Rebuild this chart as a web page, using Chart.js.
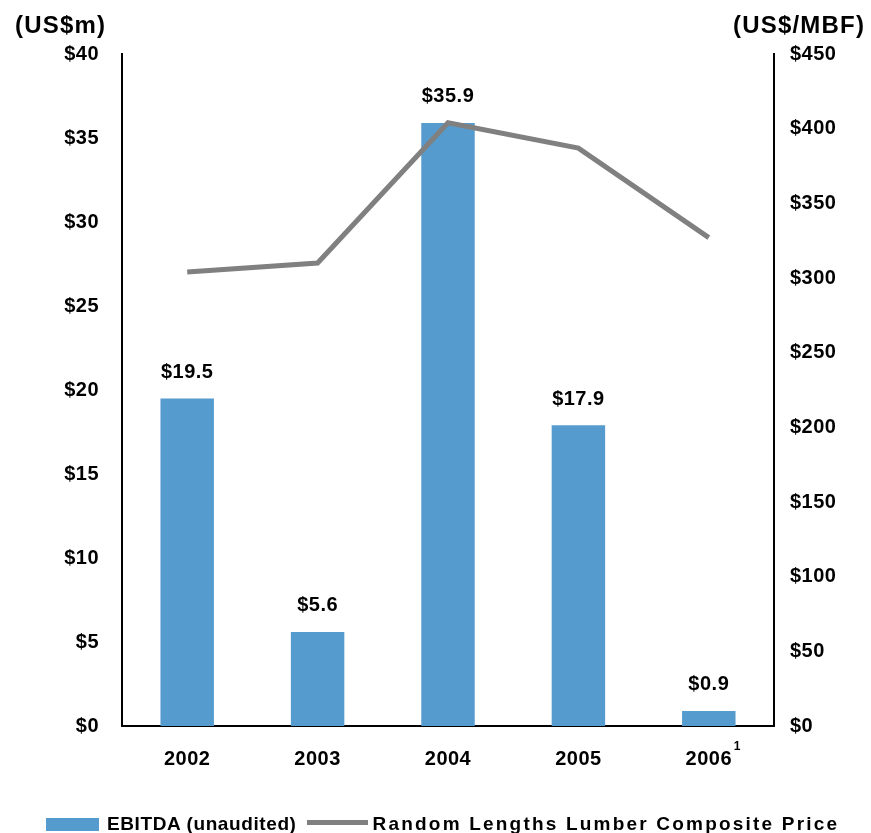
<!DOCTYPE html>
<html>
<head>
<meta charset="utf-8">
<script src="https://cdn.jsdelivr.net/npm/chart.js@4.4.1/dist/chart.umd.min.js"></script>
<style>
  html, body { margin: 0; padding: 0; background: #fff; }
  #wrap { position: relative; width: 871px; height: 833px; }
  #legend {
    position: absolute; left: 46px; top: 814px; height: 20px;
    display: flex; align-items: center;
    font: bold 19px "Liberation Sans", Arial, sans-serif; color: #000;
  }
  #legend .box { width: 53px; height: 13px; margin-right: 8px; }
  #legend .ln { width: 61px; height: 5px; margin: -3px 5px 0 10px; }
</style>
</head>
<body>
<div id="wrap">
  <canvas id="chart" width="871" height="833"></canvas>
  <div id="legend"></div>
</div>
<script>
// data
const years = ['2002', '2003', '2004', '2005', '2006'];
const footnotes = ['', '', '', '', '1'];
const ebitda = [19.5, 5.6, 35.9, 17.9, 0.9];          // US$m
const lumberPrice = [304, 310, 404, 387, 327];        // US$/MBF
const leftTicks = { min: 0, max: 40, step: 5 };
const rightTicks = { min: 0, max: 450, step: 50 };

const FONT = '"Liberation Sans", Arial, sans-serif';
const barColor = '#569BCD';
const lineColor = '#808080';

// titles, bar value labels and footnote marks
const extras = {
  id: 'extras',
  beforeDraw(chart) {
    chart.ctx.letterSpacing = '0.5px';
  },
  afterDraw(chart) {
    const ctx = chart.ctx;
    ctx.save();
    ctx.fillStyle = '#000';

    // axis unit titles
    ctx.font = 'bold 24px ' + FONT;
    ctx.letterSpacing = '1.2px';
    ctx.textBaseline = 'middle';
    ctx.textAlign = 'left';
    ctx.fillText('(US$m)', 15, 26);
    ctx.fillText('(US$/MBF)', 733, 26);

    // value labels over the bars
    ctx.font = 'bold 20px ' + FONT;
    ctx.letterSpacing = '0.5px';
    ctx.textAlign = 'center';
    const meta = chart.getDatasetMeta(1);
    meta.data.forEach((bar, i) => {
      ctx.fillText('$' + ebitda[i].toFixed(1), bar.x, bar.y - 26);
    });

    // superscript footnote on x labels
    const x = chart.scales.x;
    ctx.font = 'bold 12px ' + FONT;
    ctx.letterSpacing = '0px';
    ctx.textAlign = 'left';
    footnotes.forEach((f, i) => {
      if (!f) return;
      const px = x.getPixelForTick(i);
      ctx.fillText(f, px + 25, 747);
    });
    ctx.restore();
  }
};

const ctx = document.getElementById('chart').getContext('2d');
const chart = new Chart(ctx, {
  data: {
    labels: years,
    datasets: [
      {
        type: 'line',
        label: 'Random Lengths Lumber Composite Price',
        data: lumberPrice,
        yAxisID: 'y1',
        borderColor: lineColor,
        backgroundColor: lineColor,
        borderWidth: 5,
        pointRadius: 0,
        tension: 0,
        order: 0
      },
      {
        type: 'bar',
        label: 'EBITDA (unaudited)',
        data: ebitda,
        yAxisID: 'y',
        backgroundColor: barColor,
        barPercentage: 0.41,
        categoryPercentage: 1,
        order: 1
      }
    ]
  },
  options: {
    responsive: false,
    animation: false,
    layout: { padding: { top: 54, left: 0, right: 0, bottom: 0 } },
    plugins: {
      legend: { display: false },
      tooltip: { enabled: false }
    },
    scales: {
      x: {
        grid: { display: false, drawTicks: false },
        border: { color: '#000', width: 2 },
        ticks: { color: '#000', font: { family: FONT, size: 20, weight: 'bold' }, padding: 21 },
        afterFit(s) { s.height = 107; }
      },
      y: {
        position: 'left',
        min: leftTicks.min, max: leftTicks.max,
        grid: { display: false, drawTicks: false },
        border: { color: '#000', width: 2 },
        ticks: {
          stepSize: leftTicks.step,
          color: '#000',
          font: { family: FONT, size: 20, weight: 'bold' },
          padding: 23,
          callback: v => '$' + v
        },
        afterFit(s) { s.width = 122; }
      },
      y1: {
        position: 'right',
        min: rightTicks.min, max: rightTicks.max,
        grid: { display: false, drawTicks: false },
        border: { color: '#000', width: 2 },
        ticks: {
          stepSize: rightTicks.step,
          color: '#000',
          font: { family: FONT, size: 20, weight: 'bold' },
          padding: 16,
          callback: v => '$' + v
        },
        afterFit(s) { s.width = 97; }
      }
    }
  },
  plugins: [extras]
});

// html legend built from the chart datasets (bar first, like the original)
const legend = document.getElementById('legend');
[1, 0].forEach(i => {
  const ds = chart.data.datasets[i];
  const mark = document.createElement('span');
  mark.className = ds.type === 'bar' ? 'box' : 'ln';
  mark.style.background = ds.type === 'bar' ? ds.backgroundColor : ds.borderColor;
  const txt = document.createElement('span');
  txt.textContent = ds.label;
  txt.style.letterSpacing = ds.type === 'bar' ? '0.6px' : '2.2px';
  legend.appendChild(mark);
  legend.appendChild(txt);
});
</script>
</body>
</html>
